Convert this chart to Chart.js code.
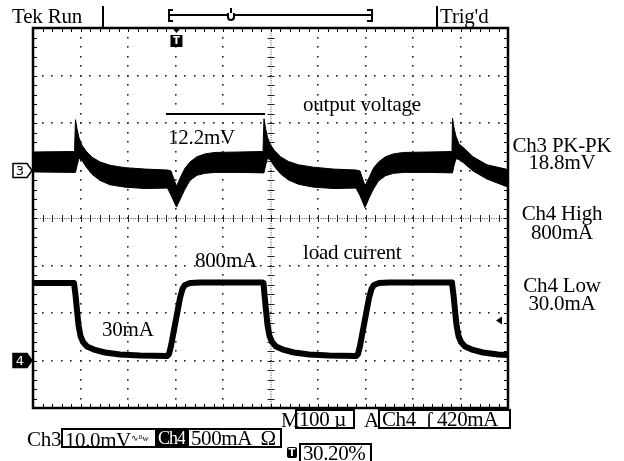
<!DOCTYPE html>
<html>
<head>
<meta charset="utf-8">
<script src="https://cdn.jsdelivr.net/npm/chart.js@4/dist/chart.umd.min.js"></script>
<style>
  body { margin: 0; background: #fff; }
  #wrap { position: relative; width: 624px; height: 461px; overflow: hidden; font-family: "Liberation Serif", "Times New Roman", serif; color: #000; }
  #scope { position: absolute; left: 0; top: 0; }
  .t { position: absolute; font-size: 21px; line-height: 1; white-space: nowrap; letter-spacing: -0.2px; }
  .c { width: 124px; text-align: center; left: 500px; }
  .box { position: absolute; height: 16px; border: 2px solid #000; font-size: 21px; line-height: 16px; white-space: nowrap; letter-spacing: -0.4px; padding-left: 2px; overflow: hidden; }
  .inv { background: #000; color: #fff; }
  .vbar { position: absolute; width: 2px; background: #000; }
  .hbar { position: absolute; height: 2px; background: #000; }
  sub { font-size: 9px; vertical-align: 6px; letter-spacing: 0; }
</style>
</head>
<body>
<div id="wrap">
  <canvas id="scope" width="624" height="461"></canvas>

  <!-- top status bar -->
  <div class="t" style="left:12px; top:6px;">Tek Run</div>
  <div class="vbar" style="left:102px; top:6px; height:21px;"></div>
  <div class="vbar" style="left:168px; top:9px; height:13px;"></div>
  <div class="hbar" style="left:168px; top:9px; width:5px;"></div>
  <div class="hbar" style="left:168px; top:20px; width:5px;"></div>
  <div class="hbar" style="left:168px; top:14px; width:205px;"></div>
  <div class="vbar" style="left:371px; top:9px; height:13px;"></div>
  <div class="hbar" style="left:367px; top:9px; width:5px;"></div>
  <div class="hbar" style="left:367px; top:20px; width:5px;"></div>
  <div class="vbar" style="left:230px; top:8px; height:5px;"></div>
  <div style="position:absolute; left:227px; top:13px; width:4px; height:6px; border:2px solid #000; border-top:none; border-radius:0 0 4px 4px; background:#fff;"></div>
  <div class="vbar" style="left:436px; top:6px; height:21px;"></div>
  <div class="t" style="left:440px; top:6px;">Trig'd</div>

  <!-- annotations inside the graticule -->
  <div class="t" style="left:303px; top:94px;">output voltage</div>
  <div class="hbar" style="left:166px; top:113px; width:99px;"></div>
  <div class="t" style="left:168px; top:127px;">12.2mV</div>
  <div class="t" style="left:303px; top:242px;">load current</div>
  <div class="t" style="left:195px; top:250px;">800mA</div>
  <div class="t" style="left:102px; top:319px;">30mA</div>

  <!-- measurement readouts -->
  <div class="t c" style="top:135px;">Ch3 PK-PK</div>
  <div class="t c" style="top:152px;">18.8mV</div>
  <div class="t c" style="top:203px;">Ch4 High</div>
  <div class="t c" style="top:222px;">800mA</div>
  <div class="t c" style="top:275px;">Ch4 Low</div>
  <div class="t c" style="top:293px;">30.0mA</div>

  <!-- bottom readouts -->
  <div class="t" style="left:281px; top:410px;">M</div>
  <div class="box" style="left:295px; top:409px; width:54px;">100 µ</div>
  <div class="t" style="left:364px; top:410px;">A</div>
  <div class="box" style="left:378px; top:409px; width:127px;">Ch4 &nbsp;ʃ 420mA</div>
  <div class="t" style="left:27px; top:429px;">Ch3</div>
  <div class="box" style="left:61px; top:428px; width:90px;">10.0mV<sub>∿ᴮw</sub></div>
  <div class="box inv" style="left:156px; top:428px; width:27px; font-size:18px; letter-spacing:-1px; padding-left:0;">Ch4</div>
  <div class="box" style="left:187px; top:428px; width:89px;">500mA &nbsp;Ω</div>
  <div style="position:absolute; left:287px; top:447px; width:10px; height:11px; background:#000; border-radius:2px; color:#fff; font:bold 10px 'DejaVu Sans'; line-height:11px; text-align:center;">T</div>
  <div class="box" style="left:299px; top:443px; width:67px;">30.20%</div>
</div>

<script>
// time axis: µs, 100 µs/div, 10 divisions
const timeMin = 0;
const timeMax = 1000;
const triggerTime = 302;      // 30.20% of record
const triggerLevel = 420;     // mA

// Ch3 (output voltage, mV, 10 mV/div) - noisy band as upper/lower envelope
const ch3Time = [
  0, 87.4, 89.5, 92.6, 96.8, 103.2, 111.6, 124.2, 141.1, 162.1, 193.7, 235.8, 283.2,
  290.5, 302.1, 311.6, 320, 330.5, 345.3, 362.1, 383.2, 435.8, 484.2,
  486.3, 489.5, 493.7, 500, 508.4, 521.1, 537.9, 558.9, 590.5, 632.6, 680,
  688.4, 698.9, 708.4, 716.8, 727.4, 742.1, 758.9, 780, 835.8, 882.1,
  883.2, 886.3, 890.5, 896.8, 905.3, 926.3, 955.8, 1000
];
const ch3Upper = [
  3.9, 4.0, 10.7, 8.8, 6.9, 5.3, 4.1, 2.8, 1.8, 1.1, 0.6, 0.3, 0.1,
  -0.1, -3.3, -1.2, 0.5, 1.8, 2.9, 3.5, 3.8, 3.9, 4.0,
  10.9, 8.9, 7.0, 5.4, 4.2, 2.9, 1.9, 1.2, 0.7, 0.3, 0.1,
  -0.1, -3.2, -1.3, 0.5, 1.8, 2.9, 3.5, 3.8, 3.9, 4.0,
  11.0, 9.0, 7.2, 5.6, 4.9, 2.9, 1.2, 0.2
];
const ch3Lower = [
  -0.3, -0.4, -0.4, 1.0, 2.6, 2.1, 0.8, -0.8, -2.1, -3.0, -3.5, -3.8, -3.7,
  -5.2, -7.7, -5.7, -3.9, -2.1, -1.0, -0.6, -0.4, -0.4, -0.5,
  -0.5, 1.0, 2.6, 2.2, 0.8, -0.7, -2.0, -2.9, -3.5, -3.8, -3.7,
  -5.3, -7.8, -5.6, -3.9, -2.2, -1.1, -0.6, -0.4, -0.4, -0.5,
  -0.5, 1.0, 2.5, 2.3, 1.7, -0.1, -1.8, -3.5
];

// Ch4 (load current, mA, 500 mA/div)
const ch4Time = [
  0, 86.3, 89.5, 92.6, 95.8, 100, 105.3, 113.7, 130.5, 151.6, 183.2, 225.3, 282.1,
  286.3, 290.5, 296.8, 303.2, 309.5, 314.7, 320, 330.5, 351.6, 483.2,
  485.3, 487.4, 490.5, 493.7, 497.9, 503.2, 511.6, 528.4, 549.5, 581.1, 623.2, 680,
  684.2, 688.4, 694.7, 701.1, 707.4, 712.6, 717.9, 728.4, 749.5, 881.1,
  882.1, 885.3, 888.4, 891.6, 895.8, 901.1, 909.5, 926.3, 947.4, 978.9, 1000
];
const ch4Current = [
  816, 816, 689, 532, 374, 258, 195, 147, 111, 84, 63, 53, 47,
  68, 153, 321, 489, 658, 753, 795, 816, 821, 821,
  816, 689, 532, 374, 258, 195, 147, 111, 84, 63, 53, 47,
  68, 153, 321, 489, 658, 753, 795, 816, 821, 821,
  816, 689, 532, 374, 258, 195, 147, 111, 84, 63, 58
];

const pts = (xs, ys) => xs.map((x, i) => ({ x: x, y: ys[i] }));

// scope graticule, frame and channel markers
const graticule = {
  id: 'graticule',
  beforeDatasetsDraw(chart) {
    const { ctx, chartArea: a } = chart;
    const dx = a.width / 10, dy = a.height / 8;
    const dot = (x, y) => ctx.fillRect(Math.round(x) - 1, Math.round(y) - 1, 1.6, 1.6);
    ctx.save();
    ctx.fillStyle = '#222';
    for (let i = 1; i < 10; i++) {
      if (i === 5) continue;
      for (let k = 1; k < 40; k++) dot(a.left + i * dx, a.top + k * dy / 5);
    }
    for (let j = 1; j < 8; j++) {
      if (j === 4) continue;
      for (let k = 1; k < 50; k++) dot(a.left + k * dx / 5, a.top + j * dy);
    }
    // centre cross with minor ticks
    const cx = a.left + 5 * dx, cy = a.top + 4 * dy;
    ctx.fillStyle = '#444';
    for (let k = 0; k < 200; k++) ctx.fillRect(a.left + k * dx / 20, cy, 1, 1);
    for (let k = 0; k < 160; k++) ctx.fillRect(cx, a.top + k * dy / 20, 1, 1);
    ctx.fillStyle = '#222';
    for (let k = 1; k < 50; k++) ctx.fillRect(Math.round(a.left + k * dx / 5), cy - 3, 1, 7);
    for (let k = 1; k < 40; k++) ctx.fillRect(cx - 3, Math.round(a.top + k * dy / 5), 7, 1);
    ctx.restore();
  },
  afterDatasetsDraw(chart) {
    const { ctx, chartArea: a, scales } = chart;
    const dx = a.width / 10, dy = a.height / 8;
    ctx.save();
    ctx.fillStyle = '#000';
    // edge ticks
    for (let k = 1; k < 50; k++) {
      const x = Math.round(a.left + k * dx / 5);
      ctx.fillRect(x, a.top, 1, 4);
      ctx.fillRect(x, a.bottom - 4, 1, 4);
    }
    for (let k = 1; k < 40; k++) {
      const y = Math.round(a.top + k * dy / 5);
      ctx.fillRect(a.left, y, 4, 1);
      ctx.fillRect(a.right - 4, y, 4, 1);
    }
    ctx.strokeStyle = '#000';
    ctx.lineWidth = 2.5;
    ctx.strokeRect(a.left, a.top, a.width, a.height);

    // channel ground markers
    const marker = (y, label, filled) => {
      ctx.beginPath();
      ctx.moveTo(13, y - 7);
      ctx.lineTo(27, y - 7);
      ctx.lineTo(a.left - 1, y);
      ctx.lineTo(27, y + 7);
      ctx.lineTo(13, y + 7);
      ctx.closePath();
      ctx.fillStyle = filled ? '#000' : '#fff';
      ctx.fill();
      ctx.lineWidth = 1.5;
      ctx.stroke();
      ctx.fillStyle = filled ? '#fff' : '#000';
      ctx.font = '13px "DejaVu Sans"';
      ctx.textAlign = 'center';
      ctx.textBaseline = 'middle';
      ctx.fillText(label, 20, y + 1);
    };
    marker(scales.y3.getPixelForValue(0), '3', false);
    marker(scales.y4.getPixelForValue(0), '4', true);

    // trigger position
    const tx = scales.x.getPixelForValue(triggerTime);
    ctx.fillStyle = '#000';
    ctx.beginPath();
    ctx.moveTo(tx - 5, a.top - 1);
    ctx.lineTo(tx + 5, a.top - 1);
    ctx.lineTo(tx, a.top + 5);
    ctx.closePath();
    ctx.fill();
    ctx.fillRect(tx - 6, a.top + 7, 12, 12);
    ctx.fillStyle = '#fff';
    ctx.font = 'bold 10px "DejaVu Sans"';
    ctx.textAlign = 'center';
    ctx.textBaseline = 'middle';
    ctx.fillText('T', tx, a.top + 13.5);

    // trigger level
    const ty = scales.y4.getPixelForValue(triggerLevel);
    ctx.fillStyle = '#000';
    ctx.beginPath();
    ctx.moveTo(a.right - 12, ty);
    ctx.lineTo(a.right - 6, ty - 4);
    ctx.lineTo(a.right - 6, ty + 4);
    ctx.closePath();
    ctx.fill();
    ctx.restore();
  }
};

new Chart(document.getElementById('scope'), {
  type: 'line',
  data: {
    datasets: [
      {
        label: 'Ch3 upper',
        data: pts(ch3Time, ch3Upper),
        yAxisID: 'y3',
        borderColor: '#000',
        backgroundColor: '#000',
        borderWidth: 1,
        pointRadius: 0,
        fill: '+1'
      },
      {
        label: 'Ch3 lower',
        data: pts(ch3Time, ch3Lower),
        yAxisID: 'y3',
        borderColor: '#000',
        borderWidth: 1,
        pointRadius: 0,
        fill: false
      },
      {
        label: 'Ch4',
        data: pts(ch4Time, ch4Current),
        yAxisID: 'y4',
        borderColor: '#000',
        borderWidth: 6,
        borderJoinStyle: 'round',
        pointRadius: 0,
        fill: false
      }
    ]
  },
  options: {
    responsive: false,
    animation: false,
    layout: { padding: { left: 33, right: 116, top: 28, bottom: 53 } },
    plugins: {
      legend: { display: false },
      tooltip: { enabled: false }
    },
    scales: {
      x: { type: 'linear', min: timeMin, max: timeMax, display: false },
      y3: { type: 'linear', min: -50, max: 30, display: false },
      y4: { type: 'linear', min: -500, max: 3500, display: false }
    }
  },
  plugins: [graticule]
});
</script>
</body>
</html>
